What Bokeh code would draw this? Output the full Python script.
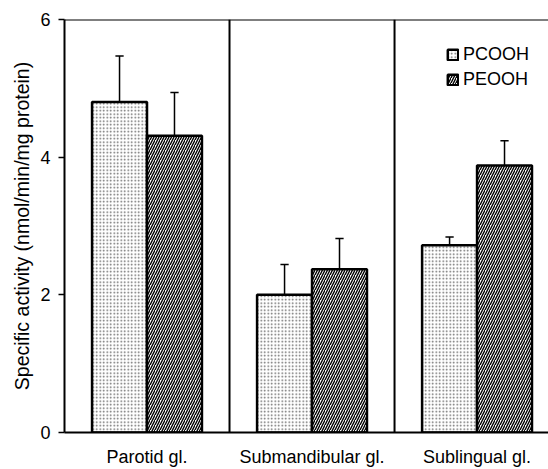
from bokeh.plotting import figure
from bokeh.models import ColumnDataSource, Span, FixedTicker, Legend, LegendItem
from bokeh.embed import file_html
from bokeh.resources import INLINE

categories = ["Parotid gl.", "Submandibular gl.", "Sublingual gl."]
series = ["PCOOH", "PEOOH"]
pcooh = [4.80, 2.00, 2.72]
pcooh_err = [0.67, 0.44, 0.12]
peooh = [4.31, 2.37, 3.88]
peooh_err = [0.63, 0.45, 0.36]
y_ticks = [0, 2, 4, 6]

FONT = "Liberation Sans"
FS = "18px"

p = figure(width=548, height=469, output_backend="svg", toolbar_location=None,
           x_range=(0, 2.933), y_range=(0, 6),
           min_border_left=64, min_border_right=0, min_border_top=19, min_border_bottom=36)
p.outline_line_color = None
p.grid.visible = False
p.background_fill_color = "white"
p.border_fill_color = "white"

centers = [i + 0.5 for i in range(len(categories))]
bw = 0.333
x1 = [c - bw / 2 for c in centers]
x2 = [c + bw / 2 for c in centers]

s1 = ColumnDataSource(dict(x=x1, top=pcooh, err=[v + e for v, e in zip(pcooh, pcooh_err)]))
s2 = ColumnDataSource(dict(x=x2, top=peooh, err=[v + e for v, e in zip(peooh, peooh_err)]))

r1 = p.vbar(x="x", top="top", width=bw, bottom=0, source=s1, fill_color="white",
            line_color="black", line_width=2.5, hatch_pattern="dot", hatch_color="#666666",
            hatch_scale=3.5, hatch_weight=1)
r2 = p.vbar(x="x", top="top", width=bw, bottom=0, source=s2, fill_color="white",
            line_color="black", line_width=2.5, hatch_pattern="right_diagonal_line",
            hatch_color="black", hatch_scale=5, hatch_weight=1.4)

cap = 0.025
for s in (s1, s2):
    d = s.data
    p.segment(x0=d["x"], y0=d["top"], x1=d["x"], y1=d["err"], line_color="black", line_width=1.5)
    p.segment(x0=[x - cap for x in d["x"]], y0=d["err"], x1=[x + cap for x in d["x"]], y1=d["err"],
              line_color="black", line_width=1.5)

for xv in [1, 2]:
    p.add_layout(Span(location=xv, dimension="height", line_color="black", line_width=2))
p.add_layout(Span(location=6, dimension="width", line_color="black", line_width=2))

# y axis
p.yaxis.ticker = FixedTicker(ticks=y_ticks)
p.yaxis.axis_label = "Specific activity (nmol/min/mg protein)"
p.yaxis.axis_label_text_font = FONT
p.yaxis.axis_label_text_font_style = "normal"
p.yaxis.axis_label_text_font_size = "19.5px"
p.yaxis.axis_label_text_color = "black"
p.yaxis.axis_label_standoff = 4
p.yaxis.major_label_text_font = FONT
p.yaxis.major_label_text_font_size = FS
p.yaxis.major_label_text_color = "black"
p.yaxis.major_label_standoff = 8
p.yaxis.major_tick_in = 0
p.yaxis.major_tick_out = 6
p.yaxis.minor_tick_line_color = None
p.yaxis.axis_line_width = 2
p.yaxis.axis_line_color = "black"
p.yaxis.major_tick_line_color = "black"
p.yaxis.major_tick_line_width = 1.5

# x axis
p.xaxis.ticker = FixedTicker(ticks=centers)
p.xaxis.major_label_overrides = {c: lab for c, lab in zip(centers, categories)}
p.xaxis.major_label_text_font = FONT
p.xaxis.major_label_text_font_size = FS
p.xaxis.major_label_text_color = "black"
p.xaxis.major_tick_in = 0
p.xaxis.major_tick_out = 0
p.xaxis.major_label_standoff = 14
p.xaxis.major_tick_line_color = None
p.xaxis.minor_tick_line_color = None
p.xaxis.axis_line_width = 2
p.xaxis.axis_line_color = "black"

legend = Legend(items=[LegendItem(label=series[0], renderers=[r1]),
                       LegendItem(label=series[1], renderers=[r2])],
                location=(382, 342), padding=0, margin=0, spacing=4,
                glyph_width=13, glyph_height=13, label_standoff=4, label_height=20,
                label_text_font=FONT, label_text_font_size=FS, label_text_color="black",
                border_line_color=None, background_fill_alpha=0)
p.add_layout(legend)

open("out.html", "w").write(file_html(p, INLINE))
